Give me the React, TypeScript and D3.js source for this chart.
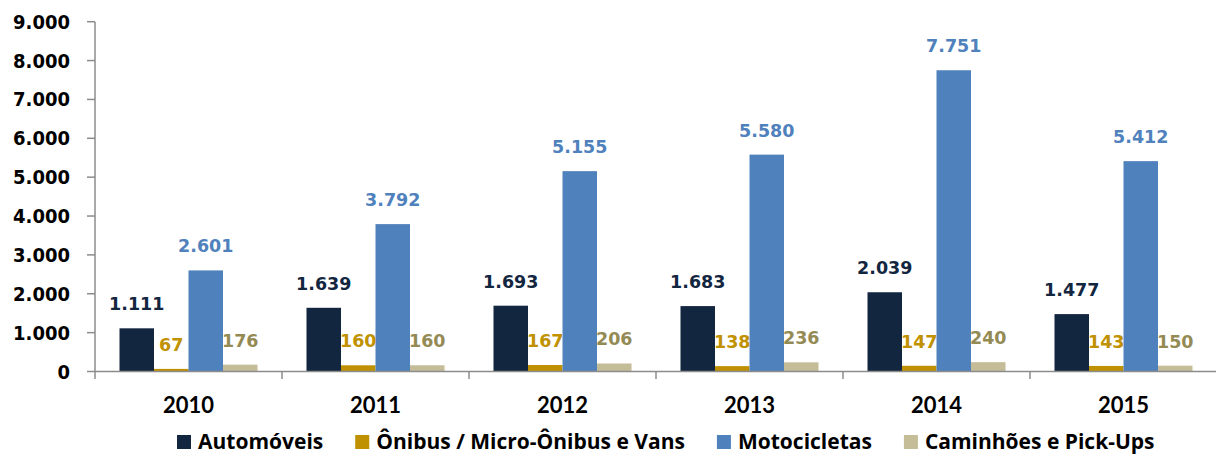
import React, { useEffect, useRef } from "react";
import * as d3 from "d3";

const years = ["2010", "2011", "2012", "2013", "2014", "2015"];
const seriesNames = ["Automóveis", "Ônibus / Micro-Ônibus e Vans", "Motocicletas", "Caminhões e Pick-Ups"];
const automoveis = [1111, 1639, 1693, 1683, 2039, 1477];
const onibus = [67, 160, 167, 138, 147, 143];
const motocicletas = [2601, 3792, 5155, 5580, 7751, 5412];
const caminhoes = [176, 160, 206, 236, 240, 150];
const yTicks = [0, 1000, 2000, 3000, 4000, 5000, 6000, 7000, 8000, 9000];

const barColors = ["#13263f", "#bf9000", "#4f81bd", "#c4bd97"];
const labelColors = ["#13263f", "#c09100", "#4f81bd", "#948a54"];

const fmt = (v: number) => d3.format(",")(v).replace(/,/g, ".");

export default function App() {
  const ref = useRef<SVGSVGElement>(null);
  useEffect(() => {
    const svg = d3.select(ref.current);
    svg.selectAll("*").remove();
    const left = 95, right = 1217;
    const y = d3.scaleLinear().domain([0, 9000]).range([371.5, 21.7]);
    const x0 = d3.scaleBand().domain(years).range([left, right]).padding(0);
    const bw = x0.bandwidth();
    const x1 = d3.scaleBand().domain(seriesNames).range([bw * 0.131, bw * 0.869]).padding(0);
    const all = [automoveis, onibus, motocicletas, caminhoes];

    const axisColor = "#8c8c8c";
    svg.append("line").attr("x1", left).attr("x2", left).attr("y1", y(9000)).attr("y2", 379)
      .attr("stroke", axisColor).attr("stroke-width", 1.5);
    const yt = svg.append("g");
    yTicks.forEach((t) => {
      yt.append("line").attr("x1", 87).attr("x2", left).attr("y1", y(t)).attr("y2", y(t))
        .attr("stroke", axisColor).attr("stroke-width", 1.5);
      yt.append("text").attr("x", 70).attr("y", y(t)).attr("text-anchor", "end")
        .attr("dominant-baseline", "central")
        .style("font-family", "'DejaVu Sans Condensed', 'DejaVu Sans'").style("font-weight", "bold")
        .style("font-size", "20px").attr("fill", "#000").text(fmt(t));
    });

    all.forEach((vals, si) => {
      const g = svg.append("g");
      vals.forEach((v, i) => {
        const bx = (x0(years[i]) as number) + (x1(seriesNames[si]) as number);
        g.append("rect").attr("x", bx).attr("y", y(v)).attr("width", x1.bandwidth())
          .attr("height", y(0) - y(v)).attr("fill", barColors[si]);
      });
    });

    svg.append("line").attr("x1", left).attr("x2", right).attr("y1", y(0)).attr("y2", y(0))
      .attr("stroke", axisColor).attr("stroke-width", 1.5);
    years.forEach((yr, i) => {
      const xe = (x0(yr) as number) + bw;
      if (i < years.length - 1)
        svg.append("line").attr("x1", xe).attr("x2", xe).attr("y1", y(0)).attr("y2", 379)
          .attr("stroke", axisColor).attr("stroke-width", 1.5);
      svg.append("text").attr("x", (x0(yr) as number) + bw / 2).attr("y", 404)
        .attr("text-anchor", "middle").attr("dominant-baseline", "central")
        .style("font-family", "Lato").style("font-weight", "bold").style("font-size", "22px")
        .attr("fill", "#000").text(yr);
    });

    all.forEach((vals, si) => {
      vals.forEach((v, i) => {
        const cx = (x0(years[i]) as number) + (x1(seriesNames[si]) as number) + x1.bandwidth() / 2;
        svg.append("text").attr("x", cx).attr("y", y(v) - 24)
          .attr("text-anchor", "middle").attr("dominant-baseline", "central")
          .style("font-family", "'DejaVu Sans'").style("font-weight", "bold")
          .style("font-size", "17.5px").attr("fill", labelColors[si]).text(fmt(v));
      });
    });

    const lg = svg.append("g");
    let lx = 177;
    seriesNames.forEach((name, si) => {
      lg.append("rect").attr("x", lx).attr("y", 435).attr("width", 14).attr("height", 14)
        .attr("fill", barColors[si]);
      const t = lg.append("text").attr("x", lx + 21).attr("y", 449)
        .style("font-family", "'Open Sans'").style("font-weight", "bold").style("font-size", "21px")
        .attr("fill", "#000").text(name);
      const w = (t.node() as SVGTextElement).getComputedTextLength();
      lx = lx + 21 + w + 32;
    });
  }, []);
  return <svg ref={ref} width={1216} height={455} style={{ position: "absolute", left: 0, top: 0 }} />;
}
